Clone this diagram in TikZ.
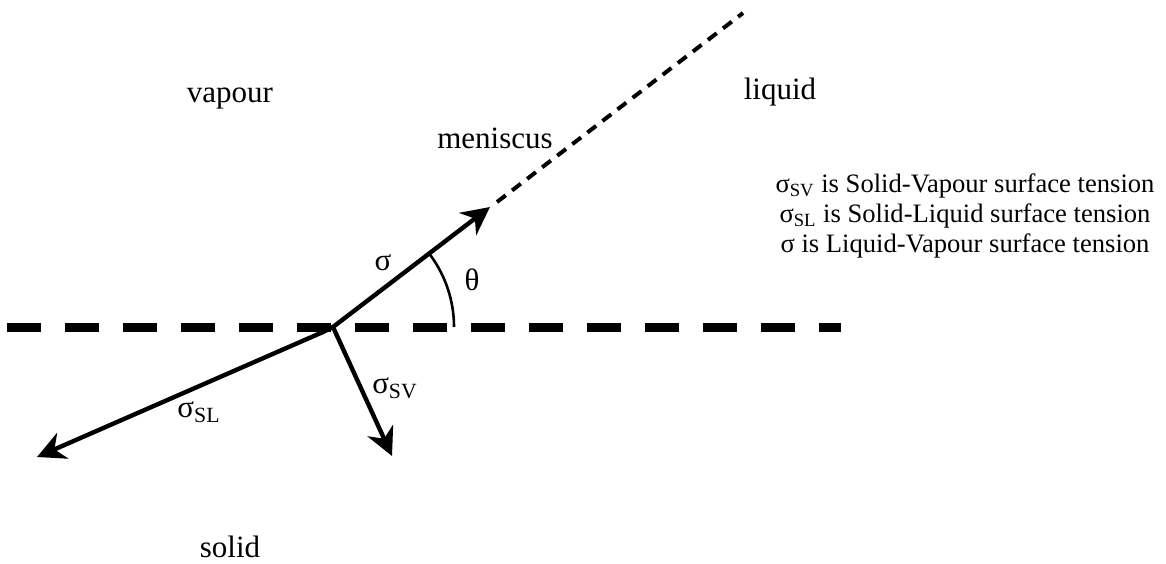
\documentclass[tikz,border=0pt]{standalone}
\usepackage{fontspec}
\setmainfont{Liberation Serif}
\usetikzlibrary{arrows.meta}

\begin{document}
\begin{tikzpicture}[x=0.5pt,y=-0.5pt,pull/.style={-{Stealth[length=14pt,width=14pt,inset=4.5pt]},line width=2.2pt,line join=round},key/.style={anchor=base,font=\fontsize{13.3}{15}\selectfont},every node/.append style={font=\fontsize{15.5}{18}\selectfont,inner sep=0pt}]
  \useasboundingbox (0,0) rectangle (1166,563);
  \coordinate (C) at (333,327);
  \coordinate (hzA) at (7,327);
  \coordinate (hzB) at (841,327);
  \coordinate (tipLV) at (490,207);
  \coordinate (menA) at (497,202);
  \coordinate (menB) at (743,13);
  \coordinate (bendSL) at (323,332);
  \coordinate (tipSL) at (37,457);
  \coordinate (tipSV) at (392,456);

  \draw[line width=4.5pt,dash pattern=on 17pt off 12pt] (hzA) -- (hzB);
  \draw[line width=2pt,dash pattern=on 5.5pt off 4pt] (menA) -- (menB);
  \draw[pull] (C) -- (tipLV);
  \draw[pull] (C) -- (bendSL) -- (tipSL);
  \draw[pull] (C) -- (tipSV);
  \draw[line width=1.3pt] (C) ++(0:121) arc[start angle=0,end angle=-37,radius=121];

  \node[anchor=base] (vapour) at (230,102) {vapour};
  \node[anchor=base] (liquid) at (780,99) {liquid};
  \node[anchor=base] (meniscus) at (495,148) {meniscus};
  \node[anchor=base] (solid) at (230,557) {solid};
  \node (sigLV) at (383,263) {σ};
  \node (theta) at (472,280) {θ};
  \node (sigSV) at (395,388) {σ\textsubscript{SV}};
  \node (sigSL) at (199,412) {σ\textsubscript{SL}};

  \node[key] (keySV) at (965,192) {σ\textsubscript{SV} is Solid-Vapour surface tension};
  \node[key] (keySL) at (965,222) {σ\textsubscript{SL} is Solid-Liquid surface tension};
  \node[key] (keyLV) at (965,252) {σ is Liquid-Vapour surface tension};
\end{tikzpicture}
\end{document}
